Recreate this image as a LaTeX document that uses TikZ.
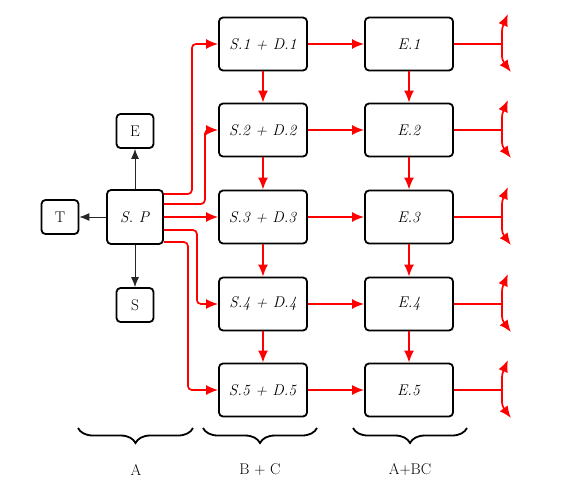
\documentclass[tikz,border=0pt]{standalone}
\usetikzlibrary{arrows.meta,decorations.pathreplacing}
\begin{document}
\begin{tikzpicture}[x=1pt,y=-1pt,
  box/.style={draw=black,line width=1.8pt,rounded corners=4pt,inner sep=0pt,
    font=\fontsize{15.5}{17}\selectfont},
  bigbox/.style={box,minimum width=88pt,minimum height=53pt},
  spbox/.style={box,minimum width=56pt,minimum height=54pt},
  smallbox/.style={box,minimum width=37pt,minimum height=34pt},
  redarr/.style={draw=red,line width=1.7pt,rounded corners=4pt,-{Latex[length=12pt,width=10pt]}},
  blkarr/.style={draw=black!85,line width=0.9pt,-{Latex[length=10pt,width=8pt]}},
  bracestyle/.style={decorate,decoration={brace,mirror,amplitude=15pt},line width=1.8pt},
  lbl/.style={font=\fontsize{15.5}{17}\selectfont}
]
\useasboundingbox (0,0) rectangle (564,488);

\node[spbox] (sp) at (135,217) {\textit{S. P}};
\node[smallbox] (e) at (135,131) {E};
\node[smallbox] (t) at (60,217) {T};
\node[smallbox] (s) at (135,305) {S};

\node[bigbox] (s1) at (263,44) {\textit{S.1 + D.1}};
\node[bigbox] (s2) at (263,130) {\textit{S.2 + D.2}};
\node[bigbox] (s3) at (263,217) {\textit{S.3 + D.3}};
\node[bigbox] (s4) at (263,304) {\textit{S.4 + D.4}};
\node[bigbox] (s5) at (263,390) {\textit{S.5 + D.5}};

\node[bigbox] (e1) at (409,44) {\textit{E.1}};
\node[bigbox] (e2) at (409,130) {\textit{E.2}};
\node[bigbox] (e3) at (409,217) {\textit{E.3}};
\node[bigbox] (e4) at (409,304) {\textit{E.4}};
\node[bigbox] (e5) at (409,390) {\textit{E.5}};

\draw[blkarr] (sp) -- (e);
\draw[blkarr] (sp) -- (t);
\draw[blkarr] (sp) -- (s);

\draw[redarr] ([yshift=23pt]sp.east) -- ++(28,0) |- (s1.west);
\draw[redarr] ([yshift=13pt]sp.east) -- ++(41,0) |- (s2.west);
\draw[redarr] (sp.east) -- (s3.west);
\draw[redarr] ([yshift=-13pt]sp.east) -- ++(33,0) |- (s4.west);
\draw[redarr] ([yshift=-25pt]sp.east) -- ++(24,0) |- (s5.west);

\foreach \i/\j in {1/2,2/3,3/4,4/5}{
  \draw[redarr] (s\i) -- (s\j);
  \draw[redarr] (e\i) -- (e\j);
}
\foreach \i in {1,...,5}{
  \draw[redarr] (s\i) -- (e\i);
  \coordinate (f\i) at ([xshift=48pt]e\i.east);
  \draw[draw=red,line width=1.7pt] (e\i.east) -- (f\i);
  \draw[redarr] (f\i) -- ++(0,-16) -- ++(6,-14);
  \draw[redarr] (f\i) -- ++(0,16) -- ++(9,12);
}

\draw[bracestyle] (78,428) -- (193,428);
\draw[bracestyle] (203,428) -- (317,428);
\draw[bracestyle] (353,428) -- (467,428);
\node[lbl] (la) at (136,470) {A};
\node[lbl] (lb) at (260,470) {B + C};
\node[lbl] (lc) at (410,470) {A+BC};
\end{tikzpicture}
\end{document}
